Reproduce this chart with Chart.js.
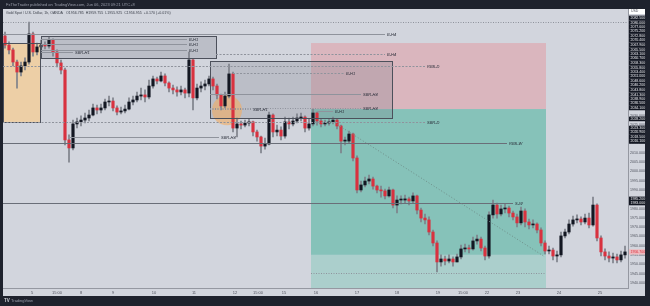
<!DOCTYPE html>
<html>
<head>
<meta charset="utf-8">
<script src="https://cdn.jsdelivr.net/npm/chart.js"></script>
<style>
  html, body { margin: 0; padding: 0; background: #1e222d; overflow: hidden; }
  canvas { display: block; }
</style>
</head>
<body>
<canvas id="chart" width="650" height="306"></canvas>
<script>
// XAU/USD 1h, OANDA - one candle per slot, open = previous close
const firstOpen = 2072.8;
const closes = [
  2067.9, 2065.3, 2058.8, 2053.4, 2056.7, 2058.8, 2073.9, 2064.2, 2066.9, 2067.9,
  2067.4, 2070.6, 2064.2, 2058.3, 2054.5, 2016.9, 2012.6, 2025.5, 2026.6, 2027.6,
  2028.7, 2030.3, 2034.1, 2033.0, 2034.1, 2037.3, 2037.8, 2034.1, 2031.9, 2032.5,
  2033.5, 2037.3, 2038.4, 2040.5, 2041.1, 2040.0, 2045.9, 2049.7, 2048.6, 2051.3,
  2047.5, 2044.8, 2043.8, 2042.7, 2043.8, 2042.1, 2059.9, 2039.5, 2044.8, 2045.9,
  2047.0, 2049.7, 2045.9, 2041.1, 2035.2, 2040.5, 2052.4, 2023.3, 2025.5, 2024.9,
  2026.0, 2026.6, 2021.2, 2018.5, 2013.6, 2014.7, 2030.3, 2021.2, 2022.2, 2019.0,
  2026.6, 2025.5, 2027.1, 2028.7, 2029.2, 2023.3, 2025.5, 2031.4, 2027.1, 2025.5,
  2026.0, 2026.6, 2027.6, 2024.4, 2016.3, 2016.3, 2020.1, 2007.2, 1990.0, 1992.7,
  1994.8, 1995.9, 1992.1, 1990.0, 1989.5, 1986.8, 1990.0, 1981.9, 1984.6, 1984.6,
  1985.2, 1984.1, 1986.8, 1979.2, 1974.9, 1973.9, 1967.4, 1961.5, 1951.3, 1952.9,
  1951.8, 1952.9, 1951.3, 1954.0, 1958.3, 1958.8, 1958.3, 1962.6, 1963.6, 1958.8,
  1954.5, 1976.6, 1981.9, 1977.1, 1979.8, 1980.3, 1977.6, 1975.5, 1972.3, 1978.7,
  1972.8, 1971.2, 1971.7, 1968.5, 1961.5, 1957.2, 1957.7, 1954.5, 1955.1, 1965.3,
  1967.4, 1971.7, 1973.9, 1974.4, 1972.8, 1974.9, 1971.2, 1981.9, 1964.2, 1956.7,
  1954.5, 1953.4, 1954.0, 1952.4, 1955.1, 1956.7
];
const highs = [
  2074.9, 2069.6, 2066.3, 2059.9, 2058.8, 2061.0, 2080.3, 2074.9, 2069.0, 2070.6,
  2069.6, 2072.3, 2071.2, 2065.3, 2059.9, 2055.6, 2019.6, 2027.6, 2028.7, 2029.8,
  2031.4, 2033.0, 2036.2, 2035.7, 2036.2, 2038.9, 2040.5, 2039.5, 2035.2, 2034.6,
  2035.7, 2039.5, 2040.5, 2042.7, 2044.8, 2043.8, 2049.1, 2051.3, 2050.7, 2053.4,
  2052.4, 2048.1, 2046.4, 2045.4, 2045.9, 2044.8, 2064.2, 2060.4, 2047.0, 2048.1,
  2049.1, 2051.3, 2050.7, 2047.0, 2041.6, 2042.7, 2057.7, 2053.4, 2028.7, 2027.1,
  2027.6, 2028.2, 2027.1, 2022.2, 2019.0, 2017.9, 2031.9, 2030.9, 2024.9, 2023.9,
  2029.2, 2028.7, 2029.2, 2030.9, 2031.4, 2029.8, 2028.2, 2033.5, 2031.9, 2028.2,
  2027.6, 2028.2, 2029.2, 2028.2, 2024.9, 2018.5, 2021.7, 2020.6, 2008.3, 1994.8,
  1997.0, 1998.0, 1997.0, 1992.7, 1992.1, 1990.5, 1991.6, 1990.5, 1986.8, 1986.8,
  1987.3, 1986.2, 1988.4, 1987.3, 1980.3, 1977.1, 1975.5, 1968.5, 1962.6, 1955.1,
  1954.5, 1955.1, 1954.0, 1955.6, 1960.4, 1960.9, 1960.4, 1964.7, 1965.8, 1964.7,
  1959.9, 1978.2, 1984.6, 1983.0, 1981.9, 1982.5, 1981.4, 1978.7, 1977.1, 1980.8,
  1979.8, 1974.4, 1973.9, 1972.3, 1969.6, 1962.6, 1959.9, 1958.8, 1957.2, 1967.4,
  1969.0, 1973.9, 1976.0, 1976.6, 1975.5, 1977.1, 1977.6, 1986.2, 1982.5, 1965.3,
  1958.3, 1956.7, 1956.1, 1955.6, 1957.2, 1959.9
];
const lows = [
  2066.3, 2063.1, 2056.7, 2044.8, 2051.3, 2054.5, 2057.7, 2062.0, 2062.6, 2065.3,
  2065.8, 2066.3, 2062.0, 2056.1, 2052.4, 2014.2, 2005.0, 2011.5, 2023.3, 2024.4,
  2026.0, 2027.1, 2029.8, 2030.9, 2031.4, 2033.0, 2035.2, 2032.5, 2030.3, 2030.9,
  2031.4, 2033.0, 2035.7, 2037.3, 2038.4, 2037.3, 2038.9, 2044.8, 2047.0, 2048.1,
  2045.9, 2042.7, 2041.6, 2040.5, 2041.1, 2039.5, 2040.0, 2033.0, 2038.4, 2042.7,
  2043.8, 2045.9, 2043.8, 2038.9, 2033.0, 2034.1, 2039.5, 2021.2, 2018.5, 2022.8,
  2023.9, 2024.4, 2019.0, 2016.3, 2009.9, 2012.0, 2014.2, 2018.5, 2019.0, 2016.9,
  2017.9, 2022.8, 2024.4, 2026.0, 2027.1, 2021.2, 2022.2, 2024.4, 2024.9, 2023.9,
  2024.4, 2024.9, 2025.5, 2022.8, 2009.9, 2014.2, 2015.3, 2005.6, 1988.4, 1988.9,
  1991.6, 1993.2, 1990.5, 1988.4, 1986.2, 1985.2, 1986.2, 1980.3, 1977.6, 1982.5,
  1983.0, 1981.9, 1983.0, 1977.1, 1972.8, 1971.7, 1965.8, 1959.9, 1945.9, 1949.1,
  1949.7, 1950.8, 1949.1, 1951.3, 1952.9, 1956.7, 1956.1, 1957.7, 1960.9, 1957.2,
  1952.4, 1953.4, 1974.9, 1974.9, 1976.0, 1977.6, 1975.5, 1973.9, 1970.1, 1971.2,
  1970.1, 1969.0, 1969.6, 1966.9, 1959.9, 1955.6, 1955.6, 1952.4, 1951.3, 1954.0,
  1964.2, 1966.4, 1970.6, 1972.3, 1971.2, 1971.7, 1969.6, 1970.6, 1962.6, 1954.5,
  1952.4, 1951.3, 1950.8, 1950.8, 1951.3, 1953.4
];

// time axis (candle slot -> label)
const tickPos = [6.75, 13, 19, 27, 37.25, 47.25, 57.5, 63.25, 69.75, 77.75, 88, 98, 108.25, 114.5, 120.5, 128.25, 138.5, 148.75];
const tickLabels = ['5', '15:00', '8', '9', '10', '11', '12', '15:00', '15', '16', '17', '18', '19', '15:00', '22', '23', '24', '25'];

// price scale labels of drawings (dark tags on the price axis)
const axisMarks = [2082.5, 2080.0, 2077.6, 2075.2, 2072.8, 2070.4, 2067.9, 2065.5, 2063.1, 2060.7,
  2058.3, 2055.8, 2053.4, 2051.0, 2048.6, 2046.2, 2043.8, 2041.3, 2038.9, 2036.5, 2034.1,
  2028.2, 2023.3, 2020.9, 2018.5, 2016.1, 1985.2, 1983.0];
const lastPrice = 1956.7;

// drawings: [fromSlot, toSlot, topPrice, bottomPrice]
const orangeBox = [-0.5, 8.75, 2069.0, 2026.6];
const h1Box = [9, 52.75, 2072.8, 2061.0];
const h4Box = [51.25, 96.75, 2059.3, 2028.7];
const lossZone = [76.5, 135.25, 2069.0, 2033.5];
const profitZone = [76.5, 135.25, 2033.5, 1955.1];
const paleZone = [76.5, 135.25, 1955.1, 1930];
const circleAt = [55.5, 2032.8];
const trendLine = [82.5, 2026.0, 135, 1954.0];

// horizontal levels: [fromSlot, toSlot, price, label, kind]
const levels = [
  [-0.5, 155.75, 2080.3, '', 'dot'],
  [-0.5, 95, 2073.9, 'B-H4', 'solid'],
  [9, 45.5, 2071.2, 'B-H1', 'solid'],
  [9, 45.5, 2068.5, 'B-H1', 'solid'],
  [9, 45.5, 2065.3, 'B-H1', 'solid'],
  [9, 17, 2064.0, 'SBR-H1', 'solid'],
  [52.75, 95, 2063.1, 'B-H4', 'dash'],
  [-0.5, 105, 2056.7, 'RBS-D', 'dash'],
  [57, 84.75, 2052.9, 'B-H1', 'dash'],
  [51.25, 89, 2041.6, 'SBR-H4', 'solid'],
  [51.25, 89, 2034.1, 'SBR-H4', 'dot'],
  [51.25, 61.5, 2033.3, 'SBR-H1', 'dot'],
  [78, 82, 2032.3, 'B-H1', 'solid'],
  [-0.5, 105, 2026.6, 'SBR-D', 'dash'],
  [15.75, 53.5, 2018.5, 'SBR-H4', 'solid'],
  [-0.5, 125.5, 2015.3, 'RBS-W', 'dark'],
  [-0.5, 127, 1983.0, 'S-W', 'dark'],
  [76.5, 135.25, 1945.4, '', 'dot']
];

const opens = closes.map((c, i) => i === 0 ? firstOpen : closes[i - 1]);
const isUp = closes.map((c, i) => c >= opens[i]);
const wickData = closes.map((c, i) => ({
  x: i,
  y: [Math.min(lows[i], opens[i], c), Math.max(highs[i], opens[i], c)]
}));
const bodyData = closes.map((c, i) => ({ x: i, y: [opens[i], c] }));
const RED = '#d8323f';
const DARK = '#131722';

const FONT = '"Liberation Sans", Arial, sans-serif';

const drawings = {
  id: 'drawings',
  beforeDraw(chart) {
    const ctx = chart.ctx;
    ctx.save();
    ctx.fillStyle = '#1e222d';
    ctx.fillRect(0, 0, 650, 306);
    ctx.fillStyle = '#d2d5dd';
    ctx.fillRect(3, 9, 642, 287);
    ctx.restore();
  },
  beforeDatasetsDraw(chart) {
    const ctx = chart.ctx, xs = chart.scales.x, ys = chart.scales.y, a = chart.chartArea;
    const box = (b, fill) => {
      const x0 = xs.getPixelForValue(b[0]), x1 = xs.getPixelForValue(b[1]);
      const y0 = ys.getPixelForValue(b[2]), y1 = ys.getPixelForValue(b[3]);
      ctx.fillStyle = fill;
      ctx.fillRect(x0, y0, x1 - x0, y1 - y0);
    };
    ctx.save();
    ctx.beginPath();
    ctx.rect(a.left, a.top, a.right - a.left, a.bottom - a.top);
    ctx.clip();
    box(orangeBox, 'rgb(237,207,166)');
    box(lossZone, 'rgb(218,182,190)');
    box(profitZone, 'rgb(134,194,185)');
    box(paleZone, 'rgb(171,207,204)');
    box(h1Box, 'rgba(120,123,134,0.25)');
    box(h4Box, 'rgba(120,123,134,0.25)');
    ctx.fillStyle = 'rgba(242,172,96,0.6)';
    ctx.beginPath();
    ctx.arc(xs.getPixelForValue(circleAt[0]), ys.getPixelForValue(circleAt[1]), 15, 0, Math.PI * 2);
    ctx.fill();
    ctx.restore();
  },
  afterDatasetsDraw(chart) {
    const ctx = chart.ctx, xs = chart.scales.x, ys = chart.scales.y, a = chart.chartArea;
    ctx.save();
    ctx.beginPath();
    ctx.rect(a.left, a.top, a.right - a.left, a.bottom - a.top);
    ctx.clip();

    // box borders
    ctx.strokeStyle = '#4c505b';
    ctx.lineWidth = 1;
    [orangeBox, h1Box, h4Box].forEach(b => {
      const x0 = Math.round(xs.getPixelForValue(b[0])) + 0.5, x1 = Math.round(xs.getPixelForValue(b[1])) + 0.5;
      const y0 = Math.round(ys.getPixelForValue(b[2])) + 0.5, y1 = Math.round(ys.getPixelForValue(b[3])) + 0.5;
      ctx.strokeRect(x0, y0, x1 - x0, y1 - y0);
    });

    // levels
    ctx.font = 'italic 4px ' + FONT;
    ctx.textBaseline = 'middle';
    levels.forEach(l => {
      const x0 = xs.getPixelForValue(l[0]), x1 = xs.getPixelForValue(l[1]);
      const y = Math.round(ys.getPixelForValue(l[2])) + 0.5;
      ctx.setLineDash(l[4] === 'dash' ? [2, 1.5] : l[4] === 'dot' ? [1, 1.5] : []);
      ctx.strokeStyle = l[4] === 'dark' ? '#6a6e78' : '#8f939c';
      ctx.beginPath();
      ctx.moveTo(x0, y);
      ctx.lineTo(x1, y);
      ctx.stroke();
      if (l[3]) {
        ctx.fillStyle = '#2a2e39';
        ctx.fillText(l[3], x1 + 2, y);
      }
    });

    // diagonal
    ctx.setLineDash([1, 2]);
    ctx.strokeStyle = '#6f8f8a';
    ctx.beginPath();
    ctx.moveTo(xs.getPixelForValue(trendLine[0]), ys.getPixelForValue(trendLine[1]));
    ctx.lineTo(xs.getPixelForValue(trendLine[2]), ys.getPixelForValue(trendLine[3]));
    ctx.stroke();
    ctx.restore();
  },
  afterDraw(chart) {
    const ctx = chart.ctx, ys = chart.scales.y;
    ctx.save();
    // price tags on the axis
    ctx.font = '3.5px ' + FONT;
    ctx.textBaseline = 'middle';
    axisMarks.forEach(p => {
      const y = ys.getPixelForValue(p);
      ctx.fillStyle = DARK;
      ctx.fillRect(629, y - 2.3, 16, 4.6);
      ctx.fillStyle = '#e8e9ed';
      ctx.fillText(p.toFixed(3), 630.5, y);
    });
    const yl = ys.getPixelForValue(lastPrice);
    ctx.fillStyle = '#efb9be';
    ctx.fillRect(629, yl - 2.6, 16, 5.2);
    ctx.fillStyle = '#d8323f';
    ctx.fillText(lastPrice.toFixed(3), 630.5, yl);
    ctx.fillStyle = '#ffffff';
    ctx.fillRect(629, 9, 16, 5);
    ctx.fillStyle = '#50535e';
    ctx.fillText('USD', 631, 11.5);

    // header / footer
    ctx.font = '4px ' + FONT;
    ctx.fillStyle = '#9a9eab';
    ctx.fillText('FxTheTrader published on TradingView.com, Jun 06, 2023 09:21 UTC+8', 6, 4.5);
    ctx.fillStyle = '#3c404b';
    ctx.font = '3.6px ' + FONT;
    ctx.fillText('Gold Spot / U.S. Dollar, 1h, OANDA   O1956.785  H1959.755  L1955.925  C1956.955  +0.170 (+0.01%)', 6, 12.5);
    ctx.font = 'bold 4.5px ' + FONT;
    ctx.fillStyle = '#d1d4dc';
    ctx.fillText('TV', 4, 301);
    ctx.font = '4px ' + FONT;
    ctx.fillStyle = '#9a9eab';
    ctx.fillText('TradingView', 11, 301);
    ctx.restore();
  }
};

new Chart(document.getElementById('chart'), {
  type: 'bar',
  data: {
    datasets: [
      {
        data: wickData,
        backgroundColor: '#7d818a',
        barThickness: 1,
        grouped: false,
        order: 2
      },
      {
        data: bodyData,
        backgroundColor: isUp.map(u => u ? DARK : RED),
        barThickness: 2.5,
        minBarLength: 1,
        grouped: false,
        order: 1
      }
    ]
  },
  options: {
    responsive: false,
    animation: false,
    layout: { padding: { left: 3, right: 5, top: 9, bottom: 10 } },
    plugins: { legend: { display: false }, tooltip: { enabled: false } },
    scales: {
      x: {
        type: 'linear',
        offset: false,
        min: -0.5,
        max: 155.75,
        grid: { display: false, drawTicks: false },
        border: { color: '#9598a1' },
        afterBuildTicks: s => { s.ticks = tickPos.map(v => ({ value: v })); },
        afterFit: s => { s.height = 8; },
        ticks: {
          autoSkip: false,
          maxRotation: 0,
          padding: 2,
          color: '#50535e',
          font: { size: 4, family: FONT },
          callback: v => {
            const k = tickPos.indexOf(v);
            return k >= 0 ? tickLabels[k] : '';
          }
        }
      },
      y: {
        position: 'right',
        min: 1937.3,
        max: 2087.3,
        grid: { display: false, drawTicks: false },
        border: { color: '#9598a1' },
        afterBuildTicks: s => {
          const t = [];
          for (let v = 1940; v <= 2085; v += 5) t.push({ value: v });
          s.ticks = t;
        },
        afterFit: s => { s.width = 17; },
        ticks: {
          padding: 2,
          color: '#50535e',
          font: { size: 3.6, family: FONT },
          callback: v => v.toFixed(3)
        }
      }
    }
  },
  plugins: [drawings]
});
</script>
</body>
</html>
